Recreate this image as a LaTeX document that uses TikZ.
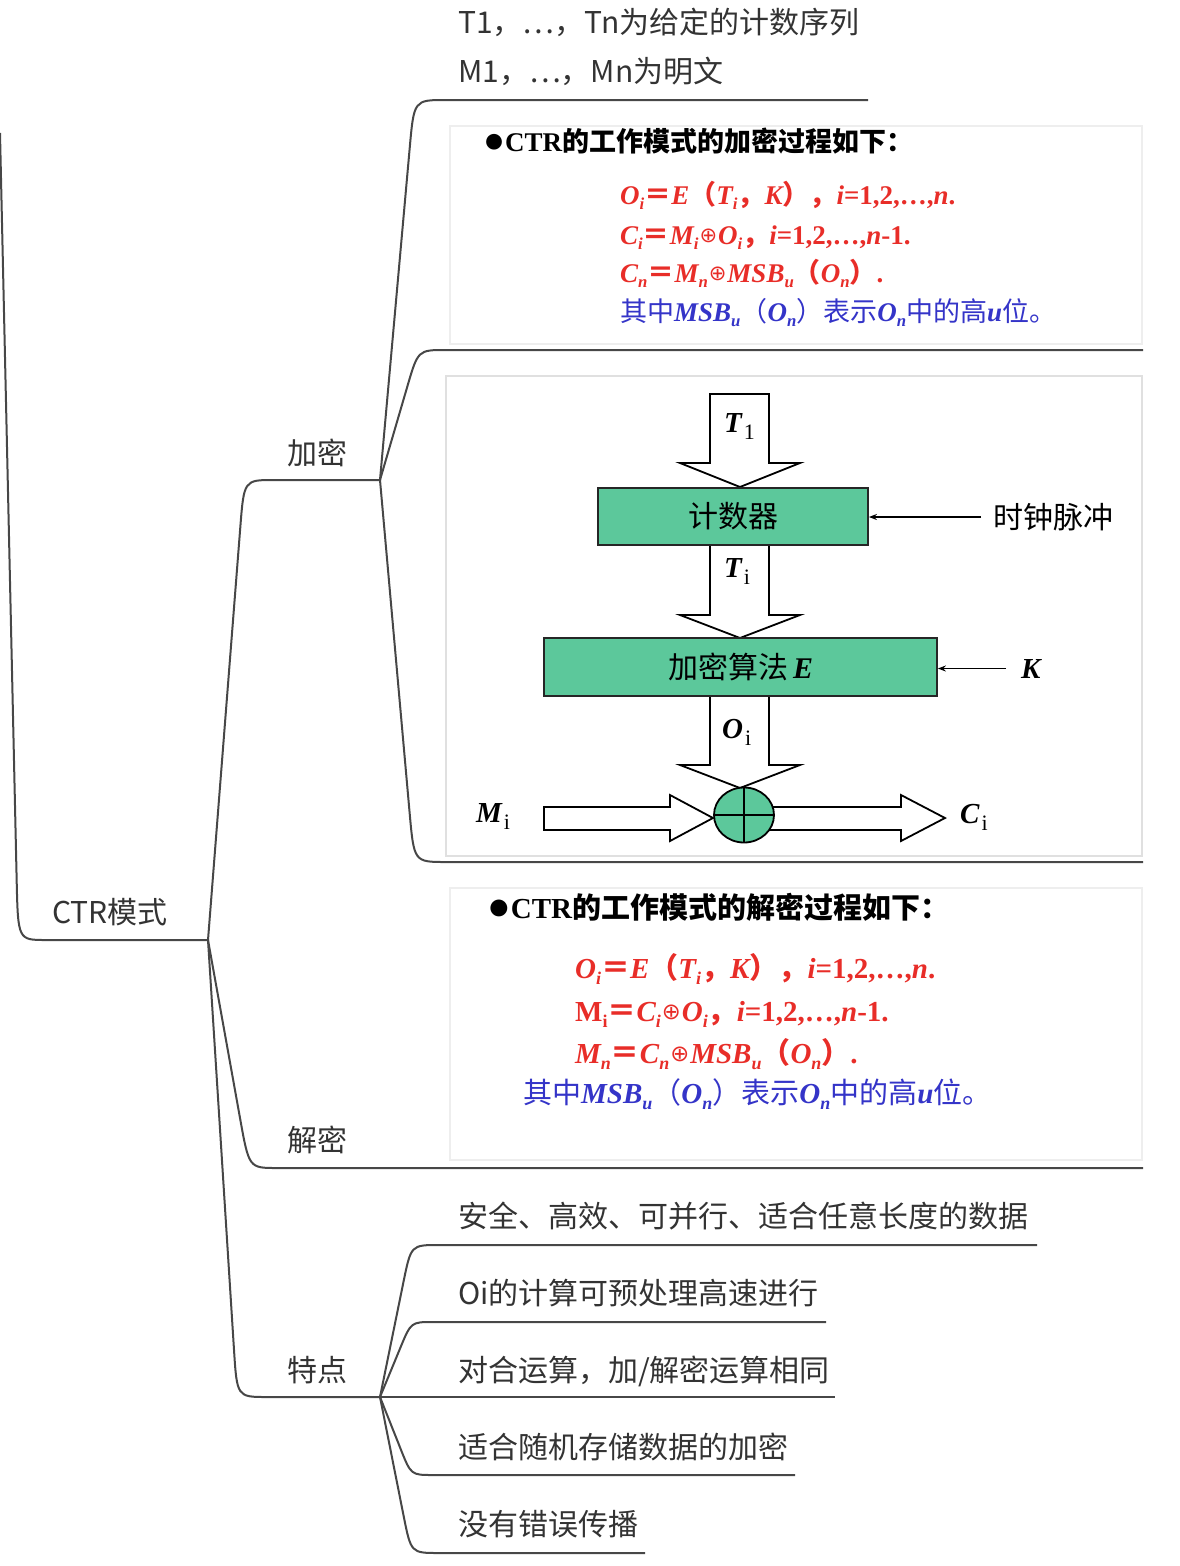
\documentclass[tikz,border=0pt]{standalone}
\usepackage{fontspec}
\usepackage{graphicx}
\setmainfont{Noto Sans CJK SC}
\newfontfamily\tnr{Liberation Serif}
\newfontfamily\djv{DejaVu Sans}
\usetikzlibrary{arrows.meta,calc,shapes.geometric}

\definecolor{mline}{HTML}{474747}
\definecolor{mtext}{HTML}{333333}
\definecolor{eqred}{RGB}{232,45,40}
\definecolor{eqblue}{RGB}{52,52,200}
\definecolor{boxgreen}{RGB}{92,200,155}
\definecolor{imgborder}{HTML}{EEEEEE}

\newcommand\bi{\tnr\bfseries\itshape}
\newcommand\bu{\tnr\bfseries}
\newcommand\sbx[1]{\raisebox{-0.22em}{\scalebox{0.62}{#1}}}
\newcommand\xorop{\hspace{1pt}{\djv\mdseries\raisebox{0.05em}{\scalebox{0.78}{⊕}}}\hspace{1pt}}
\newcommand\bul{{\tnr\raisebox{-0.05em}{\scalebox{1.35}{●}}}}
\newcommand\dsub[1]{\hspace{2pt}\raisebox{-7pt}{\tnr\mdseries\upshape\fontsize{22}{22}\selectfont #1}}

\newcommand\brc[5]{%
  \draw[mlinest] (#1) -- ($(#2)!#4pt!(#1)$) .. controls (#2) .. ($(#2)!#5pt!(#3)$) -- (#3);}

\tikzset{
  mlinest/.style={draw=mline, line width=2pt},
  mm/.style={anchor=base west, inner sep=0pt, text=mtext, font=\fontsize{30}{30}\selectfont},
  imgbox/.style={draw=imgborder, line width=1.2pt},
  hdr/.style={anchor=base west, inner sep=0pt, text=black, font=\bfseries},
  eqr/.style={anchor=base west, inner sep=0pt, text=eqred, font=\bfseries},
  eqb/.style={anchor=base west, inner sep=0pt, text=eqblue},
  gbox/.style={draw=black!85, line width=1.8pt, fill=boxgreen, inner sep=0pt, font=\fontsize{30}{30}\selectfont},
  hollow/.style={draw=black, line width=1.8pt, fill=white, line join=miter},
  thinarrow/.style={draw=black, line width=1.3pt, -{Stealth[length=8pt,width=6pt]}},
  dlabel/.style={anchor=base west, inner sep=0pt, font=\fontsize{29}{29}\selectfont}
}

\begin{document}
\begin{tikzpicture}[x=1pt,y=-1pt]
\useasboundingbox (0,0) rectangle (1179,1566);

% ---------- image frames ----------
\draw[imgbox] (450,126) rectangle (1142,344);
\draw[imgbox, draw=black!12] (446,376) rectangle (1142,856);
\draw[imgbox] (450,888) rectangle (1142,1160);

% ---------- mind map coordinates ----------
\coordinate (top0) at (0,133);
\coordinate (rootc) at (18,940);
\coordinate (j1) at (208,940);
\coordinate (encc) at (244,480);
\coordinate (j2) at (380,480);
\coordinate (decc) at (249,1168);
\coordinate (decE) at (1143,1168);
\coordinate (feac) at (237,1397);
\coordinate (j3) at (380,1397);

\coordinate (ct) at (414,100);   \coordinate (et) at (868,100);
\coordinate (ci1) at (418,350);  \coordinate (ei1) at (1143,350);
\coordinate (ci2) at (414,862);  \coordinate (ei2) at (1143,862);

\coordinate (cf1) at (411,1245); \coordinate (ef1) at (1037,1245);
\coordinate (cf2) at (411,1322); \coordinate (ef2) at (826,1322);
\coordinate (ef3) at (835,1397);
\coordinate (cf4) at (411,1475); \coordinate (ef4) at (795,1475);
\coordinate (cf5) at (411,1553); \coordinate (ef5) at (645,1553);

% ---------- mind map connectors ----------
\brc{top0}{rootc}{j1}{60}{28}
\brc{j1}{encc}{j2}{48}{30}
\brc{j1}{decc}{decE}{50}{28}
\brc{j1}{feac}{j3}{48}{30}
\brc{j2}{ct}{et}{48}{32}
\brc{j2}{ci1}{ei1}{38}{28}
\brc{j2}{ci2}{ei2}{50}{32}
\brc{j3}{cf1}{ef1}{38}{28}
\brc{j3}{cf2}{ef2}{28}{22}
\draw[mlinest] (j3) -- (ef3);
\brc{j3}{cf4}{ef4}{28}{22}
\brc{j3}{cf5}{ef5}{38}{28}

% ---------- mind map labels ----------
\node[mm] (ctrlbl) at (52,923) {CTR模式};
\node[mm] (enclbl) at (287,464) {加密};
\node[mm] (declbl) at (287,1151) {解密};
\node[mm] (fealbl) at (287,1381) {特点};
\node[mm] (t1lbl) at (458,33) {T1，…，Tn为给定的计数序列};
\node[mm] (m1lbl) at (458,82) {M1，…，Mn为明文};
\node[mm] (f1) at (458,1227) {安全、高效、可并行、适合任意长度的数据};
\node[mm] (f2) at (458,1304) {Oi的计算可预处理高速进行};
\node[mm] (f3) at (458,1381) {对合运算，加/解密运算相同};
\node[mm] (f4) at (458,1458) {适合随机存储数据的加密};
\node[mm] (f5) at (458,1535) {没有错误传播};

% ---------- image 1: encryption formulas ----------
\node[hdr, font=\bfseries\fontsize{27}{28}\selectfont] (h1) at (483,151)
  {\bul{\bu CTR}的工作模式的加密过程如下：};
\node[eqr, font=\bfseries\fontsize{27}{28}\selectfont] (e11) at (620,204)
  {{\bi O}\sbx{\bi i}＝{\bi E}（{\bi T}\sbx{\bi i}，{\bi K}），{\bi i}{\bu =1,2,…,}{\bi n}{\bu .}};
\node[eqr, font=\bfseries\fontsize{27}{28}\selectfont] (e12) at (620,244)
  {{\bi C}\sbx{\bi i}＝{\bi M}\sbx{\bi i}\xorop{\bi O}\sbx{\bi i}，{\bi i}{\bu =1,2,…,}{\bi n}{\bu -1.}};
\node[eqr, font=\bfseries\fontsize{27}{28}\selectfont] (e13) at (620,282)
  {{\bi C}\sbx{\bi n}＝{\bi M}\sbx{\bi n}\xorop{\bi MSB}\sbx{\bi u}（{\bi O}\sbx{\bi n}）{\bu .}};
\node[eqb, font=\fontsize{27}{28}\selectfont] (e14) at (620,321)
  {其中{\bi MSB}\sbx{\bi u}（{\bi O}\sbx{\bi n}）表示{\bi O}\sbx{\bi n}中的高{\bi u}位。};

% ---------- image 3: decryption formulas ----------
\node[hdr, font=\bfseries\fontsize{29}{30}\selectfont] (h3) at (487,918)
  {\bul{\bu CTR}的工作模式的解密过程如下：};
\node[eqr, font=\bfseries\fontsize{29}{30}\selectfont] (e31) at (575,978)
  {{\bi O}\sbx{\bi i}＝{\bi E}（{\bi T}\sbx{\bi i}，{\bi K}），{\bi i}{\bu =1,2,…,}{\bi n}{\bu .}};
\node[eqr, font=\bfseries\fontsize{29}{30}\selectfont] (e32) at (575,1021)
  {{\bu M}\sbx{\bu i}＝{\bi C}\sbx{\bi i}\xorop{\bi O}\sbx{\bi i}，{\bi i}{\bu =1,2,…,}{\bi n}{\bu -1.}};
\node[eqr, font=\bfseries\fontsize{29}{30}\selectfont] (e33) at (575,1063)
  {{\bi M}\sbx{\bi n}＝{\bi C}\sbx{\bi n}\xorop{\bi MSB}\sbx{\bi u}（{\bi O}\sbx{\bi n}）{\bu .}};
\node[eqb, font=\fontsize{29}{30}\selectfont] (e34) at (523,1103)
  {其中{\bi MSB}\sbx{\bi u}（{\bi O}\sbx{\bi n}）表示{\bi O}\sbx{\bi n}中的高{\bi u}位。};

% ---------- image 2: CTR diagram ----------
\draw[hollow] (710,394) -- (769,394) -- (769,463) -- (800,463) -- (740,487) -- (680,463) -- (710,463) -- cycle;
\draw[hollow] (710,545) -- (769,545) -- (769,615) -- (800,615) -- (740,638) -- (680,615) -- (710,615) -- cycle;
\draw[hollow] (710,696) -- (769,696) -- (769,765) -- (800,765) -- (740,788) -- (680,765) -- (710,765) -- cycle;
\draw[hollow] (544,807) -- (670,807) -- (670,795) -- (713,818) -- (670,841) -- (670,830) -- (544,830) -- cycle;
\draw[hollow] (760,807) -- (901,807) -- (901,795) -- (945,818) -- (901,841) -- (901,830) -- (760,830) -- cycle;

\node[gbox, minimum width=270pt, minimum height=57pt] (ctr) at (733,516.5) {计数器};
\node[gbox, minimum width=393pt, minimum height=58pt] (alg) at (740.5,667) {加密算法\,{\bi E}};

\node[draw=black, line width=1.8pt, fill=boxgreen, ellipse, minimum width=60pt, minimum height=55pt, inner sep=0pt] (xor) at (744,815) {};
\draw[black, line width=1.6pt] (xor.north) -- (xor.south);
\draw[black, line width=1.6pt] (xor.west) -- (xor.east);

\node[dlabel] (t1) at (724,432) {{\bi T}\dsub{1}};
\node[dlabel] (ti) at (724,577) {{\bi T}\dsub{i}};
\node[dlabel] (oi) at (722,738) {{\bi O}\dsub{i}};
\node[dlabel] (mi) at (476,822) {{\bi M}\dsub{i}};
\node[dlabel] (cci) at (960,823) {{\bi C}\dsub{i}};
\node[dlabel] (kk) at (1021,678) {{\bi K}};
\node[anchor=west, inner sep=0pt, font=\fontsize{30}{30}\selectfont] (clk) at (993,517) {时钟脉冲};

\draw[thinarrow, shorten <=12pt] (clk.west) -- (ctr.east |- clk.west);
\draw[thinarrow, shorten <=15pt] (kk.west) -- (alg.east |- kk.west);
\end{tikzpicture}
\end{document}
